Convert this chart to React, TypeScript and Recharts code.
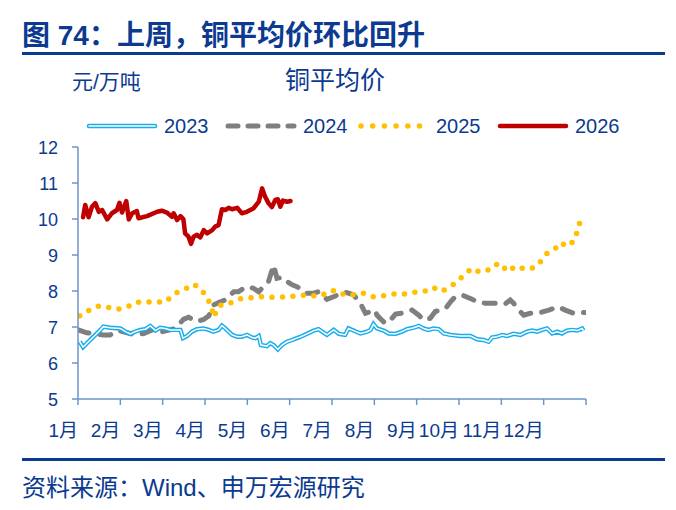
import React from 'react';
import { LineChart, Line, XAxis, YAxis } from 'recharts';

// Month labels along the x axis; x values are positions in the year measured in months (0 = 1 Jan).
const monthLabels = ['1月', '2月', '3月', '4月', '5月', '6月', '7月', '8月', '9月', '10月', '11月', '12月'];
const monthTicks = [0, 1, 2, 3, 4, 5, 6, 7, 8, 9, 10, 11, 12];
const priceTicks = [5, 6, 7, 8, 9, 10, 11, 12];

// Copper average price, 万元/吨, as [month position, price]
const copper2023: [number, number][] = [
  [0.04, 6.59], [0.12, 6.44], [0.21, 6.55], [0.33, 6.69], [0.41, 6.78], [0.53, 6.92], [0.6, 7.01],
  [0.76, 6.98], [1.0, 6.96], [1.12, 6.87], [1.24, 6.81], [1.35, 6.87], [1.47, 6.92], [1.59, 6.94],
  [1.71, 7.03], [1.83, 6.9], [1.94, 6.98], [2.06, 6.96], [2.18, 6.92], [2.3, 6.92], [2.42, 6.92],
  [2.48, 6.69], [2.58, 6.75], [2.69, 6.87], [2.81, 6.94], [2.97, 6.96], [3.09, 6.92], [3.2, 6.87],
  [3.32, 6.92], [3.4, 7.04], [3.48, 6.96], [3.56, 6.87], [3.64, 6.78], [3.76, 6.73], [3.87, 6.73],
  [3.99, 6.78], [4.11, 6.71], [4.19, 6.69], [4.27, 6.75], [4.32, 6.5], [4.46, 6.47], [4.54, 6.55],
  [4.62, 6.5], [4.72, 6.38], [4.82, 6.5], [4.94, 6.59], [5.06, 6.64], [5.17, 6.69], [5.26, 6.73],
  [5.41, 6.81], [5.57, 6.9], [5.68, 6.94], [5.88, 6.78], [6.04, 6.92], [6.16, 6.81], [6.31, 6.78],
  [6.39, 6.96], [6.51, 6.9], [6.67, 6.82], [6.83, 6.87], [6.91, 6.92], [6.98, 7.08], [7.06, 6.96],
  [7.22, 6.9], [7.34, 6.82], [7.5, 6.81], [7.65, 6.87], [7.77, 6.94], [7.93, 6.98], [8.05, 7.03],
  [8.16, 6.96], [8.28, 6.92], [8.4, 6.96], [8.52, 6.94], [8.64, 6.82], [8.8, 6.78], [9.03, 6.75],
  [9.27, 6.75], [9.43, 6.66], [9.58, 6.64], [9.7, 6.59], [9.78, 6.71], [9.9, 6.73], [10.02, 6.78],
  [10.13, 6.75], [10.29, 6.81], [10.45, 6.78], [10.61, 6.87], [10.73, 6.9], [10.84, 6.87],
  [10.96, 6.92], [11.08, 6.96], [11.2, 6.82], [11.32, 6.87], [11.43, 6.82], [11.55, 6.9],
  [11.67, 6.92], [11.79, 6.9], [11.91, 6.96], [11.94, 6.9],
];

const copper2024: [number, number][] = [
  [0.01, 6.92], [0.21, 6.84], [0.41, 6.81], [0.6, 6.78], [0.76, 6.78], [0.96, 6.9], [1.16, 6.84],
  [1.35, 6.78], [1.55, 6.82], [1.75, 6.92], [1.9, 6.84], [2.1, 6.9], [2.3, 6.96], [2.49, 7.21],
  [2.61, 7.27], [2.81, 7.15], [2.97, 7.21], [3.09, 7.31], [3.2, 7.61], [3.32, 7.68], [3.48, 7.75],
  [3.6, 7.89], [3.68, 7.98], [3.79, 7.98], [3.91, 8.07], [4.03, 8.12], [4.15, 8.07], [4.27, 7.98],
  [4.38, 8.12], [4.5, 8.26], [4.62, 8.72], [4.7, 8.35], [4.82, 8.38], [4.94, 8.26], [5.06, 8.17],
  [5.17, 8.12], [5.25, 8.07], [5.37, 7.94], [5.57, 7.94], [5.68, 7.98], [5.88, 7.77], [6.08, 7.86],
  [6.27, 7.98], [6.39, 7.94], [6.51, 7.89], [6.67, 7.66], [6.79, 7.38], [7.02, 7.47], [7.06, 7.33],
  [7.18, 7.19], [7.26, 7.1], [7.38, 7.19], [7.5, 7.36], [7.73, 7.4], [7.89, 7.47], [8.05, 7.33],
  [8.16, 7.19], [8.32, 7.24], [8.44, 7.43], [8.68, 7.51], [8.8, 7.7], [8.91, 7.84], [9.07, 7.89],
  [9.31, 7.77], [9.46, 7.68], [9.62, 7.66], [9.86, 7.66], [10.09, 7.64], [10.21, 7.75],
  [10.29, 7.66], [10.41, 7.47], [10.53, 7.33], [10.68, 7.38], [10.92, 7.4], [11.12, 7.47],
  [11.35, 7.56], [11.51, 7.47], [11.71, 7.38], [11.91, 7.4], [11.98, 7.4],
];

const copper2025: [number, number][] = [
  [0.04, 7.31], [0.27, 7.47], [0.49, 7.58], [0.69, 7.55], [0.92, 7.49], [1.17, 7.56], [1.38, 7.69],
  [1.57, 7.69], [1.79, 7.7], [2.06, 7.69], [2.2, 7.84], [2.34, 7.96], [2.55, 8.07], [2.75, 8.19],
  [2.87, 8.05], [3.03, 7.89], [3.14, 7.58], [3.22, 7.27], [3.28, 7.52], [3.4, 7.63], [3.64, 7.68],
  [3.82, 7.78], [4.05, 7.81], [4.31, 7.84], [4.51, 7.82], [4.74, 7.83], [5.0, 7.84], [5.26, 7.89],
  [5.49, 7.87], [5.74, 7.86], [5.94, 8.0], [6.12, 8.01], [6.33, 7.87], [6.55, 7.9], [6.77, 7.94],
  [6.98, 7.84], [7.24, 7.87], [7.48, 7.92], [7.72, 7.92], [7.94, 7.96], [8.18, 7.99], [8.39, 8.1],
  [8.58, 7.99], [8.77, 8.1], [8.94, 8.24], [9.13, 8.46], [9.31, 8.63], [9.46, 8.54], [9.66, 8.56],
  [9.79, 8.7], [9.98, 8.77], [10.14, 8.54], [10.35, 8.69], [10.57, 8.6], [10.8, 8.66],
  [10.98, 8.88], [11.09, 9.06], [11.28, 9.19], [11.39, 9.34], [11.57, 9.24], [11.74, 9.42],
  [11.8, 9.7], [11.88, 10.0], [11.96, 9.93],
];

const copper2026: [number, number][] = [
  [0.12, 10.05], [0.17, 10.39], [0.25, 10.05], [0.33, 10.34], [0.41, 10.44], [0.49, 10.2],
  [0.57, 10.25], [0.69, 9.99], [0.8, 10.16], [0.92, 10.25], [0.98, 10.45], [1.04, 10.18],
  [1.14, 10.5], [1.2, 9.99], [1.28, 10.16], [1.39, 10.22], [1.43, 10.02], [1.63, 10.08],
  [1.87, 10.2], [1.98, 10.23], [2.1, 10.18], [2.22, 10.06], [2.26, 10.16], [2.34, 9.97],
  [2.42, 10.08], [2.49, 9.99], [2.53, 9.6], [2.61, 9.51], [2.67, 9.31], [2.73, 9.51], [2.81, 9.56],
  [2.89, 9.49], [2.97, 9.69], [3.05, 9.6], [3.17, 9.69], [3.24, 9.79], [3.32, 9.83], [3.4, 10.27],
  [3.48, 10.25], [3.56, 10.31], [3.64, 10.27], [3.76, 10.31], [3.87, 10.16], [3.99, 10.2],
  [4.15, 10.3], [4.27, 10.48], [4.35, 10.85], [4.42, 10.62], [4.5, 10.44], [4.58, 10.33],
  [4.66, 10.53], [4.72, 10.55], [4.78, 10.34], [4.84, 10.51], [4.94, 10.48], [5.02, 10.5],
];

const toRows = (pts: [number, number][]) => pts.map(([m, v]) => ({ m, v }));

const BLUE_TEXT = '#0b3a90';
const AXIS = '#6d93cb';
const C2023 = '#17adea';
const C2024 = '#7f7f7f';
const C2025 = '#ffc000';
const C2026 = '#c00000';
const FONT = "'Liberation Sans', Arial, 'Noto Sans CJK SC', sans-serif";

const XTick = (props: any) => {
  const { x, y, payload } = props;
  const label = monthLabels[payload.value];
  if (!label) return <g />;
  return (
    <text x={x} y={y} dy={30} textAnchor="end" fill={BLUE_TEXT} fontSize={19} fontFamily={FONT}>
      {label}
    </text>
  );
};

const YTick = (props: any) => {
  const { x, y, payload } = props;
  return (
    <text x={x} y={y} dx={-12} dy={7} textAnchor="end" fill={BLUE_TEXT} fontSize={18} fontFamily={FONT}>
      {payload.value}
    </text>
  );
};

const LegendSample = ({ kind }: { kind: string }) => (
  <svg width={72} height={12} style={{ display: 'block' }}>
    {kind === '2023' && (
      <>
        <line x1={3} y1={6} x2={69} y2={6} stroke={C2023} strokeWidth={4.5} strokeLinecap="round" />
        <line x1={3} y1={6} x2={69} y2={6} stroke="#fff" strokeWidth={1.6} strokeLinecap="round" />
      </>
    )}
    {kind === '2024' && (
      <line x1={3} y1={6} x2={69} y2={6} stroke={C2024} strokeWidth={5} strokeDasharray="10 10" strokeLinecap="round" />
    )}
    {kind === '2025' && (
      <line x1={3} y1={6} x2={69} y2={6} stroke={C2025} strokeWidth={5.5} strokeDasharray="0 11.7" strokeLinecap="round" />
    )}
    {kind === '2026' && (
      <line x1={3} y1={6} x2={69} y2={6} stroke={C2026} strokeWidth={4.5} strokeLinecap="round" />
    )}
  </svg>
);

const legendItems = [
  { name: '2023', left: 86 },
  { name: '2024', left: 225 },
  { name: '2025', left: 358 },
  { name: '2026', left: 497 },
];

export default function App() {
  return (
    <div
      style={{
        position: 'absolute',
        left: 0,
        top: 0,
        width: 676,
        height: 510,
        background: '#fff',
        fontFamily: FONT,
        color: BLUE_TEXT,
        overflow: 'hidden',
      }}
    >
      <div style={{ position: 'absolute', left: 0, top: 0 }}>
        <LineChart width={676} height={510} margin={{ top: 147, right: 90, bottom: 71, left: 38 }}>
          <XAxis
            type="number"
            dataKey="m"
            domain={[0, 12]}
            ticks={monthTicks}
            interval={0}
            allowDataOverflow
            height={40}
            axisLine={{ stroke: AXIS, strokeWidth: 1.5 }}
            tickLine={{ stroke: AXIS, strokeWidth: 1.5 }}
            tickSize={6}
            tick={XTick}
          />
          <YAxis
            type="number"
            domain={[5, 12]}
            ticks={priceTicks}
            interval={0}
            allowDataOverflow
            width={40}
            axisLine={{ stroke: AXIS, strokeWidth: 1.5 }}
            tickLine={{ stroke: AXIS, strokeWidth: 1.5 }}
            tickSize={6}
            tick={YTick}
          />
          <Line
            data={toRows(copper2024)}
            dataKey="v"
            type="linear"
            stroke={C2024}
            strokeWidth={5}
            strokeDasharray="11 11"
            strokeLinecap="round"
            dot={false}
            activeDot={false}
            isAnimationActive={false}
          />
          <Line
            data={toRows(copper2023)}
            dataKey="v"
            type="linear"
            stroke={C2023}
            strokeWidth={4.4}
            dot={false}
            activeDot={false}
            isAnimationActive={false}
          />
          <Line
            data={toRows(copper2023)}
            dataKey="v"
            type="linear"
            stroke="#ffffff"
            strokeWidth={1.5}
            dot={false}
            activeDot={false}
            isAnimationActive={false}
          />
          <Line
            data={toRows(copper2025)}
            dataKey="v"
            type="linear"
            stroke={C2025}
            strokeWidth={5.5}
            strokeDasharray="0 10.5"
            strokeLinecap="round"
            dot={false}
            activeDot={false}
            isAnimationActive={false}
          />
          <Line
            data={toRows(copper2026)}
            dataKey="v"
            type="linear"
            stroke={C2026}
            strokeWidth={4.5}
            strokeLinejoin="round"
            strokeLinecap="round"
            dot={false}
            activeDot={false}
            isAnimationActive={false}
          />
        </LineChart>
      </div>

      <div
        style={{
          position: 'absolute',
          left: 22,
          top: 17,
          fontSize: 28,
          fontWeight: 700,
          lineHeight: '38px',
          whiteSpace: 'nowrap',
        }}
      >
        图 74：上周，铜平均价环比回升
      </div>
      <div style={{ position: 'absolute', left: 22, top: 52, width: 643, height: 3, background: BLUE_TEXT }} />

      <div style={{ position: 'absolute', left: 72, top: 70, fontSize: 21, lineHeight: '24px', whiteSpace: 'nowrap' }}>
        元/万吨
      </div>
      <div style={{ position: 'absolute', left: 285, top: 66, fontSize: 25, lineHeight: '28px', whiteSpace: 'nowrap' }}>
        铜平均价
      </div>

      {legendItems.map((it) => (
        <div
          key={it.name}
          style={{
            position: 'absolute',
            left: it.left,
            top: 114,
            height: 24,
            display: 'flex',
            alignItems: 'center',
            gap: 6,
            fontSize: 20,
            lineHeight: '24px',
            whiteSpace: 'nowrap',
          }}
        >
          <LegendSample kind={it.name} />
          <span>{it.name}</span>
        </div>
      ))}

      <div style={{ position: 'absolute', left: 22, top: 458, width: 643, height: 2.5, background: BLUE_TEXT }} />
      <div style={{ position: 'absolute', left: 22, top: 473, fontSize: 24, lineHeight: '30px', whiteSpace: 'nowrap' }}>
        资料来源：Wind、申万宏源研究
      </div>
    </div>
  );
}
